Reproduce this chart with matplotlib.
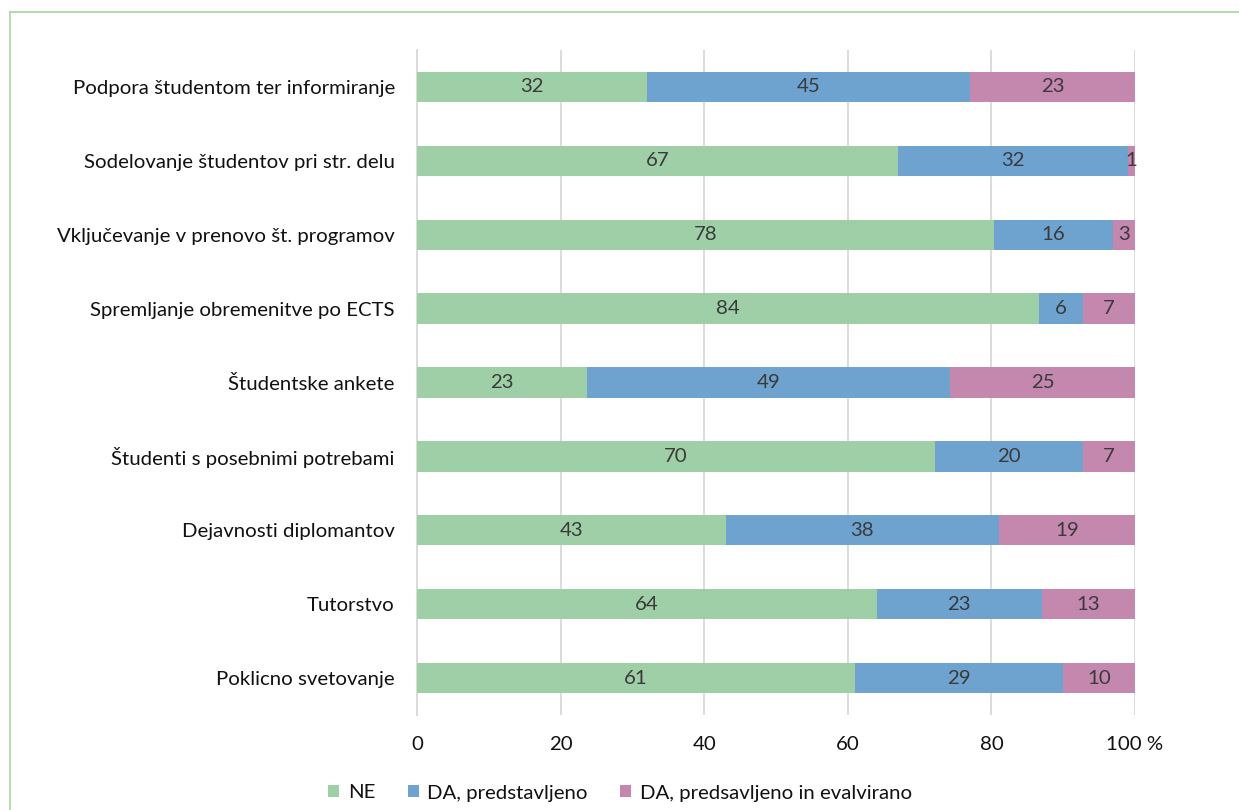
import matplotlib.pyplot as plt
import numpy as np

plt.rcParams['font.family'] = ['Lato', 'DejaVu Sans']

categories = ["Podpora študentom ter informiranje",
              "Sodelovanje študentov pri str. delu",
              "Vključevanje v prenovo št. programov",
              "Spremljanje obremenitve po ECTS",
              "Študentske ankete",
              "Študenti s posebnimi potrebami",
              "Dejavnosti diplomantov",
              "Tutorstvo",
              "Poklicno svetovanje"]
ne = [32, 67, 78, 84, 23, 70, 43, 64, 61]
da = [45, 32, 16, 6, 49, 20, 38, 23, 29]
da_eval = [23, 1, 3, 7, 25, 7, 19, 13, 10]
series_names = ["NE", "DA, predstavljeno", "DA, predsavljeno in evalvirano"]
colors = ["#9fcfa7", "#6fa3cf", "#c487ae"]
xticks = [0, 20, 40, 60, 80, 100]
xticklabels = ["0", "20", "40", "60", "80", "100 %"]

fs = 14.7

fig = plt.figure(figsize=(12.39, 8.10), dpi=100)
ax = fig.add_axes([417/1239, 1-715/810, 718/1239, 665/810])

data = np.array([ne, da, da_eval], dtype=float)
totals = data.sum(axis=0)
pct = data / totals * 100
y = np.arange(len(categories))
left = np.zeros(len(categories))
for i in range(3):
    bars = ax.barh(y, pct[i], left=left, height=0.41, color=colors[i],
                   label=series_names[i], zorder=3)
    for j, b in enumerate(bars):
        cx = left[j] + pct[i][j] / 2
        ax.text(cx, y[j], str(int(data[i][j])), ha='center', va='center',
                fontsize=fs, color='#3a3a3a', zorder=4)
    left += pct[i]

ax.set_xlim(0, 100)
ax.set_ylim(len(categories) - 0.5, -0.5)
ax.set_yticks(y)
ax.set_yticklabels(categories, fontsize=fs, color='#111111')
ax.set_xticks(xticks)
ax.set_xticklabels(xticklabels, fontsize=fs, color='#111111')
ax.tick_params(axis='both', length=0)
ax.tick_params(axis='y', pad=16)
ax.tick_params(axis='x', pad=15)
ax.grid(axis='x', color='#d9d9d9', linewidth=1.3, zorder=0)
for s in ['top', 'right', 'bottom']:
    ax.spines[s].set_visible(False)
ax.spines['left'].set_color('#d9d9d9')
ax.spines['left'].set_linewidth(1.3)

leg = fig.legend(loc='center', bbox_to_anchor=(620/1239, 1-793/810), ncol=3,
                 frameon=False, fontsize=fs, handlelength=0.55, handleheight=0.55,
                 columnspacing=1.6, handletextpad=0.4)
for t in leg.get_texts():
    t.set_color('#111111')

# thin green frame around the figure
fig.add_artist(plt.Line2D([10/1239, 10/1239], [0, 1-12/810], color='#a8d4a0', linewidth=1.2,
                          transform=fig.transFigure))
fig.add_artist(plt.Line2D([10/1239, 1], [1-12/810, 1-12/810], color='#a8d4a0', linewidth=1.2,
                          transform=fig.transFigure))

fig.savefig('out.png', dpi=100)
